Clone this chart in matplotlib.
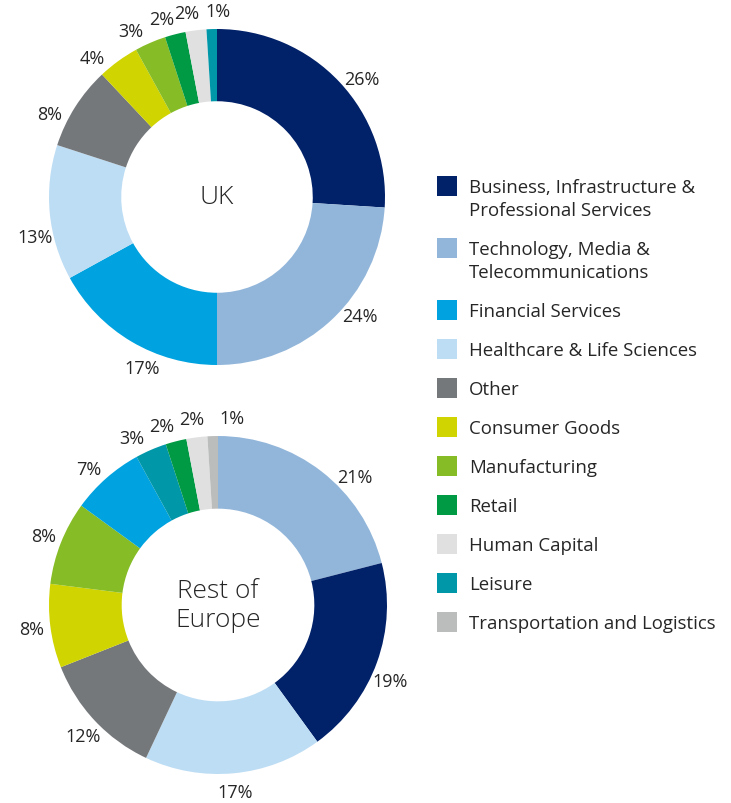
import numpy as np
import matplotlib
matplotlib.use('Agg')
import matplotlib.pyplot as plt
from matplotlib.patches import Rectangle

plt.rcParams['font.family'] = ['Open Sans', 'DejaVu Sans']

# categories and colours (legend order)
categories = ['Business, Infrastructure &\nProfessional Services',
              'Technology, Media &\nTelecommunications',
              'Financial Services',
              'Healthcare & Life Sciences',
              'Other',
              'Consumer Goods',
              'Manufacturing',
              'Retail',
              'Human Capital',
              'Leisure',
              'Transportation and Logistics']
colors = ['#012169', '#92B6DA', '#00A3E0', '#BDDDF4', '#75787B', '#D0D400',
          '#86BC25', '#009A44', '#E0E0E0', '#0097A9', '#BBBCBC']

# UK shares, clockwise from 12 o'clock (index into categories)
uk_order = [0, 1, 2, 3, 4, 5, 6, 7, 8, 9]
uk_values = [26, 24, 17, 13, 8, 4, 3, 2, 2, 1]

# Rest of Europe shares, clockwise from 12 o'clock
eu_order = [1, 0, 3, 4, 5, 6, 2, 9, 7, 8, 10]
eu_values = [21, 19, 17, 12, 8, 8, 7, 3, 2, 2, 1]

# small angular nudges of the % labels (degrees, + = clockwise) as in the original
uk_nudge = [4, -7, -7, -7, -6, -6, -4, -3, -2, 2]
eu_nudge = [9, 4, 0, -1, 0, 0, -2, -4, -3, -1, 6]

W, H = 731, 804
txt = '#262626'
fig = plt.figure(figsize=(W / 100, H / 100), dpi=100)


def donut(cx, cy, R, order, values, title, nudge):
    h = 225
    ax = fig.add_axes([(cx - h) / W, 1 - (cy + h) / H, 2 * h / W, 2 * h / H])
    wedges, _ = ax.pie(values, colors=[colors[i] for i in order], startangle=90,
                       counterclock=False, radius=1,
                       wedgeprops=dict(width=0.43, linewidth=0))
    for w, v, n in zip(wedges, values, nudge):
        a = np.deg2rad((w.theta1 + w.theta2) / 2 - n)
        ax.text(1.11 * np.cos(a), 1.11 * np.sin(a), f'{v}%', ha='center',
                va='center', fontsize=13, color=txt)
    ax.set_xlim(-h / R, h / R)
    ax.set_ylim(-h / R, h / R)
    ax.set_aspect('equal')
    ax.axis('off')
    ax.text(0, 0, title, ha='center', va='center', fontsize=19,
            color=txt, linespacing=1.2, fontweight='light')


donut(217, 198, 168, uk_order, uk_values, 'UK', uk_nudge)
donut(218, 606, 169, eu_order, eu_values, 'Rest of\nEurope', eu_nudge)

# legend
y = 177
for lab, col in zip(categories, colors):
    fig.add_artist(Rectangle((437 / W, 1 - (y + 20) / H), 20 / W, 20 / H,
                             transform=fig.transFigure, color=col, lw=0))
    lines = lab.split('\n')
    for k, line in enumerate(lines):
        fig.text(469 / W, 1 - (y + 11 + 23 * k) / H, line, ha='left',
                 va='center', fontsize=13.4, color=txt)
    y += 39 + 23 * (len(lines) - 1)

fig.savefig('out.png', dpi=100)
